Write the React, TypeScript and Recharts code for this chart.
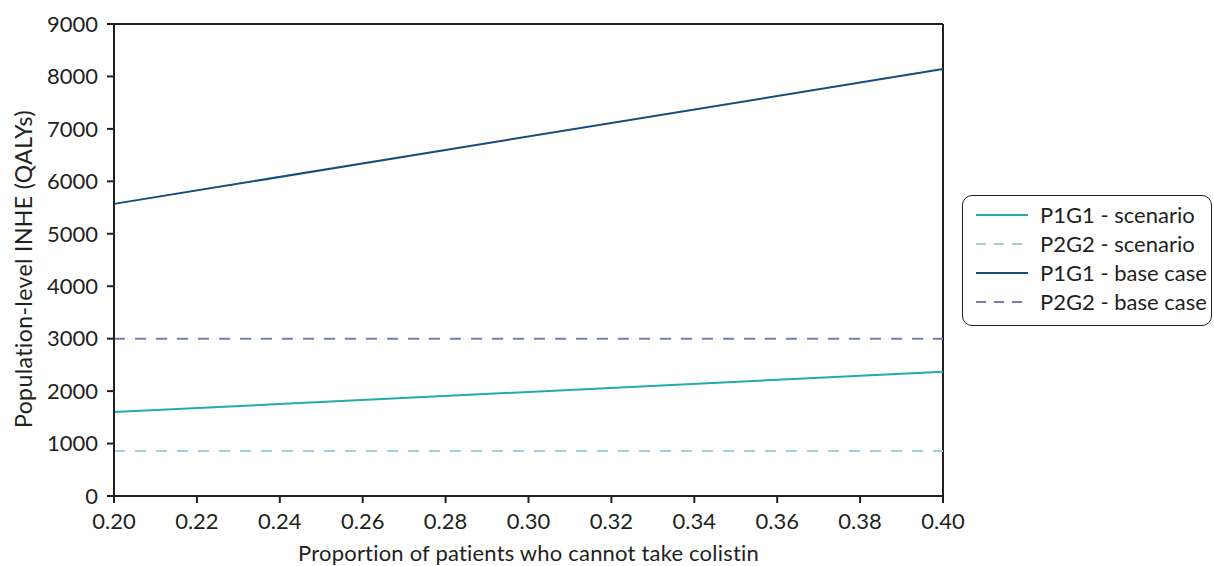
import React from "react";
import { LineChart, Line, XAxis, YAxis, ReferenceLine, Label } from "recharts";

const proportions = [0.2, 0.4];
const p1g1Scenario = [1600, 2370];
const p2g2Scenario = [860, 860];
const p1g1Base = [5570, 8140];
const p2g2Base = [3000, 3000];
const xTicks = [0.2, 0.22, 0.24, 0.26, 0.28, 0.3, 0.32, 0.34, 0.36, 0.38, 0.4];
const yTicks = [0, 1000, 2000, 3000, 4000, 5000, 6000, 7000, 8000, 9000];

const data = proportions.map((p, i) => ({
  x: p,
  s1: p1g1Scenario[i],
  s2: p2g2Scenario[i],
  b1: p1g1Base[i],
  b2: p2g2Base[i],
}));

const series = [
  { key: "s1", name: "P1G1 - scenario", color: "#23aaaa", dash: undefined },
  { key: "s2", name: "P2G2 - scenario", color: "#9dd2d5", dash: "11 10" },
  { key: "b1", name: "P1G1 - base case", color: "#164c7e", dash: undefined },
  { key: "b2", name: "P2G2 - base case", color: "#727eae", dash: "11 10" },
];

const INK = "#231f20";
const FONT = "Lato, 'Noto Sans', sans-serif";
const FS = 22;

const LegendBox = () => (
  <div
    style={{
      position: "absolute",
      left: 962,
      top: 195,
      border: `1.5px solid ${INK}`,
      borderRadius: 10,
      padding: "4px 0 0 13px",
      width: 250,
      height: 131,
      boxSizing: "border-box",
      background: "#fff",
      fontFamily: FONT,
      fontSize: FS,
      color: INK,
      lineHeight: "29px",
    }}
  >
    {series.map((s) => (
      <div key={s.key} style={{ display: "flex", alignItems: "center", height: 29, whiteSpace: "nowrap" }}>
        <svg width={52} height={10} style={{ marginRight: 12, flex: "none" }}>
          <line x1={0} y1={5} x2={52} y2={5} stroke={s.color} strokeWidth={2} strokeDasharray={s.dash ? "10 8" : undefined} />
        </svg>
        <span>{s.name}</span>
      </div>
    ))}
  </div>
);

const YTitle = () => (
  <text
    transform="translate(23,269) rotate(-90)"
    textAnchor="middle"
    dominantBaseline="central"
    fill={INK}
    fontSize={23}
    letterSpacing={0.4}
    fontFamily={FONT}
  >
    Population-level INHE (QALYs)
  </text>
);

export default function App() {
  return (
    <div style={{ position: "absolute", left: 0, top: 0, width: 1214, height: 566, background: "#fff" }}>
      <LineChart width={1214} height={566} data={data} margin={{ top: 24, right: 271, bottom: 0, left: 0 }}>
        <XAxis
          dataKey="x"
          type="number"
          domain={[0.2, 0.4]}
          ticks={xTicks}
          tickFormatter={(v: number) => v.toFixed(2)}
          axisLine={{ stroke: INK, strokeWidth: 2 }}
          tickLine={{ stroke: INK, strokeWidth: 2 }}
          tickSize={7}
          tickMargin={10}
          tick={{ fill: INK, fontSize: FS, fontFamily: FONT }}
          height={70}
          interval={0}
        >
          <Label value="Proportion of patients who cannot take colistin" position="insideBottom" offset={5} style={{ fill: INK, fontSize: FS, fontFamily: FONT, letterSpacing: 0.2 }} />
        </XAxis>
        <YAxis
          type="number"
          domain={[0, 9000]}
          ticks={yTicks}
          axisLine={{ stroke: INK, strokeWidth: 2 }}
          tickLine={{ stroke: INK, strokeWidth: 2 }}
          tickSize={7}
          tickMargin={9}
          tick={{ fill: INK, fontSize: FS, fontFamily: FONT }}
          width={114}
          interval={0}
        >
          <Label content={<YTitle />} />
        </YAxis>
        <ReferenceLine y={9000} stroke={INK} strokeWidth={2} ifOverflow="visible" />
        <ReferenceLine x={0.4} stroke={INK} strokeWidth={2} ifOverflow="visible" />
        {series.map((s) => (
          <Line
            key={s.key}
            dataKey={s.key}
            name={s.name}
            stroke={s.color}
            strokeWidth={2}
            strokeDasharray={s.dash}
            dot={false}
            activeDot={false}
            isAnimationActive={false}
          />
        ))}
      </LineChart>
      <LegendBox />
    </div>
  );
}
